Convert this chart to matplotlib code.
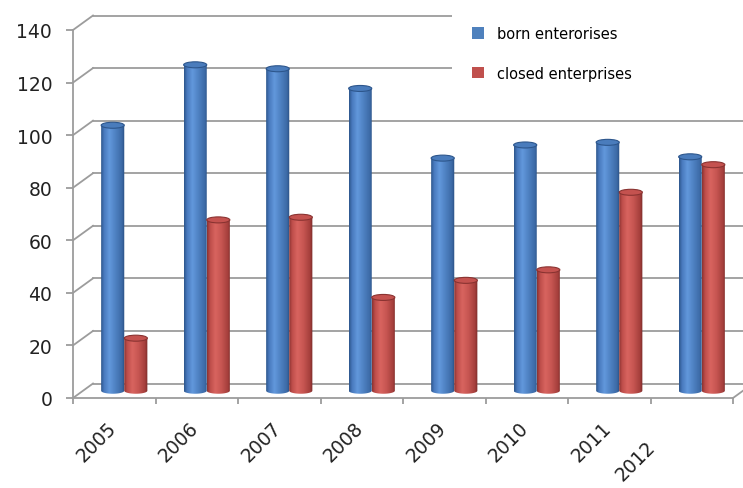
import numpy as np
import matplotlib
matplotlib.use('Agg')
import matplotlib.pyplot as plt
from matplotlib.patches import Patch, Polygon, Ellipse, Rectangle
from matplotlib.colors import LinearSegmentedColormap

years = ['2005', '2006', '2007', '2008', '2009', '2010', '2011', '2012']
born = [101, 124, 122.5, 115, 88.5, 93.5, 94.5, 89]
closed = [20, 65, 66, 35.5, 42, 46, 75.5, 86]
yticks = [0, 20, 40, 60, 80, 100, 120, 140]
labels = ['born enterorises', 'closed enterprises']

DPI = 100
W, H = 743, 489
fig = plt.figure(figsize=(W / DPI, H / DPI), dpi=DPI)
ax = fig.add_axes([73 / W, 90 / H, 660 / W, 368 / H])
ax.set_xlim(-0.5, 7.5)
ax.set_ylim(0, 140)

# pixel -> data unit helpers (linear axes)
ux = 660 / 8.0
uy = 368 / 140.0
DX, DY = 20 / ux, 14.5 / uy          # depth offset of the back wall
grid_c = '#9c9c9c'
lw = 1.3

# side wall diagonals + back wall gridlines
for v in yticks:
    ax.plot([-0.5, -0.5 + DX], [v, v + DY], color=grid_c, lw=lw, clip_on=False, zorder=1)
    ax.plot([-0.5 + DX, 8.5], [v + DY, v + DY], color=grid_c, lw=lw, clip_on=False, zorder=1)
ax.plot([7.5, 7.5 + DX], [0, DY], color=grid_c, lw=lw, clip_on=False, zorder=1)

# white area behind the legend
ax.add_artist(Rectangle((452 / W, 1 - 100 / H), (W - 452) / W, 100 / H,
                        transform=fig.transFigure, facecolor='white',
                        edgecolor='none', zorder=1.5, clip_on=False))

blue_cm = LinearSegmentedColormap.from_list('b', [
    (0, '#2d568c'), (0.12, '#4879bd'), (0.35, '#6298dc'),
    (0.6, '#4f82c3'), (0.88, '#3c6aa6'), (1, '#294d80')])
red_cm = LinearSegmentedColormap.from_list('r', [
    (0, '#8a3331'), (0.12, '#bd4d4a'), (0.35, '#d8645f'),
    (0.6, '#c75652'), (0.88, '#a53f3c'), (1, '#7a2b29')])
grad = np.linspace(0, 1, 64).reshape(1, -1)

bw = 0.28
eh = 6 / uy
y0 = DY / 2


def cylinder(xc, v, cmap, top_fc, top_ec):
    x0, x1 = xc - bw / 2, xc + bw / 2
    t = np.linspace(np.pi, 2 * np.pi, 30)
    bottom = np.column_stack([xc + bw / 2 * np.cos(t), y0 + eh / 2 * np.sin(t)])
    verts = np.vstack([bottom, [[x1, y0 + v], [x0, y0 + v]]])
    body = Polygon(verts, closed=True, transform=ax.transData)
    im = ax.imshow(grad, cmap=cmap, extent=(x0, x1, y0 - eh / 2, y0 + v),
                   aspect='auto', interpolation='bilinear', zorder=3)
    im.set_clip_path(body)
    ax.add_patch(Ellipse((xc, y0 + v), bw, eh, facecolor=top_fc,
                         edgecolor=top_ec, lw=0.8, zorder=4))


for i in range(len(years)):
    cylinder(i + DX / 2 - bw / 2, born[i], blue_cm, '#4a7cbc', '#2d568c')
    cylinder(i + DX / 2 + bw / 2, closed[i], red_cm, '#c4524f', '#8a3331')

ax.set_xlim(-0.5, 7.5)
ax.set_ylim(0, 140)

# axes / ticks
for s in ['top', 'right']:
    ax.spines[s].set_visible(False)
for s in ['left', 'bottom']:
    ax.spines[s].set_color(grid_c)
    ax.spines[s].set_linewidth(lw)
ax.set_yticks(yticks)
ax.set_yticklabels([str(v) for v in yticks])
ax.set_xticks(np.arange(-0.5, 8, 1))
ax.set_xticklabels([])
ax.tick_params(axis='y', length=5, width=lw, color=grid_c, pad=10,
               labelsize=13.5, labelcolor='#222222')
ax.tick_params(axis='x', length=4.3, width=lw, color=grid_c)

# rotated year labels (the last one sits lower, as in the original)
for i, yr in enumerate(years):
    dx, dy = -1, -27
    if i == len(years) - 1:
        dx, dy = -39, -46
    ax.text(i + dx / ux, dy / uy, yr, rotation=45, rotation_mode='anchor',
            ha='right', va='center', fontsize=13.5, color='#222222')

handles = [Patch(facecolor='#4f81bd'), Patch(facecolor='#c0504d')]
ax.legend(handles, labels, loc='upper left', bbox_to_anchor=(472 / W, 1 - 27 / H),
          bbox_transform=fig.transFigure, frameon=False, fontsize=10.5,
          handlelength=0.82, handleheight=0.82, handletextpad=0.9,
          labelspacing=1.68, borderpad=0, borderaxespad=0)

fig.savefig('out.png', dpi=DPI)
